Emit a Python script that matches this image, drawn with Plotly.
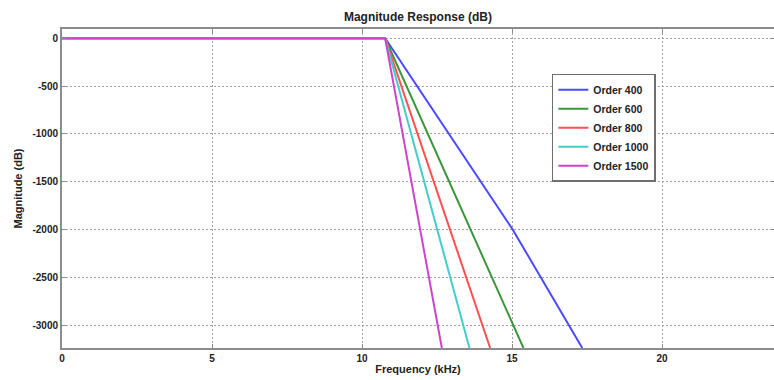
import plotly.graph_objects as go

# Data
orders = ["Order 400", "Order 600", "Order 800", "Order 1000", "Order 1500"]
colors = ["#4b4bff", "#3a963a", "#ff4f4f", "#45cccc", "#cc45cc"]

freq_400 = [0, 10.77, 15.02, 17.34]
mag_400 = [0, 0, -2000, -3240]
freq_600 = [0, 10.77, 15.38]
mag_600 = [0, 0, -3240]
freq_800 = [0, 10.77, 14.27]
mag_800 = [0, 0, -3240]
freq_1000 = [0, 10.77, 13.58]
mag_1000 = [0, 0, -3240]
freq_1500 = [0, 10.77, 12.66]
mag_1500 = [0, 0, -3240]

series = [(freq_400, mag_400), (freq_600, mag_600), (freq_800, mag_800),
          (freq_1000, mag_1000), (freq_1500, mag_1500)]

x_ticks = [0, 5, 10, 15, 20]
y_ticks = [0, -500, -1000, -1500, -2000, -2500, -3000]

fig = go.Figure()
for name, col, (f, m) in zip(orders, colors, series):
    fig.add_trace(go.Scatter(x=f, y=m, mode="lines", name=name,
                             line=dict(color=col, width=2)))

FONT = "Liberation Sans, Arial"
axis_common = dict(
    showline=True, linecolor="#8c8c8c", linewidth=2, mirror="allticks",
    ticks="inside", ticklen=4, tickcolor="#8c8c8c",
    showgrid=True, gridcolor="#a0a0a0", griddash="1.5px,2.5px", gridwidth=1.2,
    zeroline=False, automargin=False,
    tickfont=dict(family=FONT, size=10, color="#222", weight="bold"),
)

fig.update_layout(
    width=774, height=380,
    margin=dict(l=62, r=0, t=29, b=32, autoexpand=False),
    paper_bgcolor="white", plot_bgcolor="white",
    title=dict(text="Magnitude Response (dB)", x=0.54, xanchor="center", y=0.955, yanchor="middle",
               font=dict(family=FONT, size=12, color="#222", weight="bold")),
    xaxis=dict(range=[0, 23.73], tickvals=x_ticks, ticktext=[str(v) for v in x_ticks],
               title=dict(text="Frequency (kHz)", standoff=2,
                          font=dict(family=FONT, size=11, color="#222", weight="bold")),
               **axis_common),
    yaxis=dict(range=[-3240, 97], tickvals=y_ticks, ticktext=[str(v) for v in y_ticks],
               title=dict(text="Magnitude (dB)", standoff=8,
                          font=dict(family=FONT, size=11, color="#222", weight="bold")),
               **axis_common),
    legend=dict(x=0.688, y=0.86, xanchor="left", yanchor="top",
                bgcolor="white", bordercolor="#6e6e6e", borderwidth=1.5,
                font=dict(family=FONT, size=10.5, color="#222", weight="bold"),
                tracegroupgap=0, itemwidth=30),
    showlegend=True,
)

fig.write_html("out.html", config={"displayModeBar": False},
               post_script="document.body.style.margin='0';document.body.style.padding='0';")
